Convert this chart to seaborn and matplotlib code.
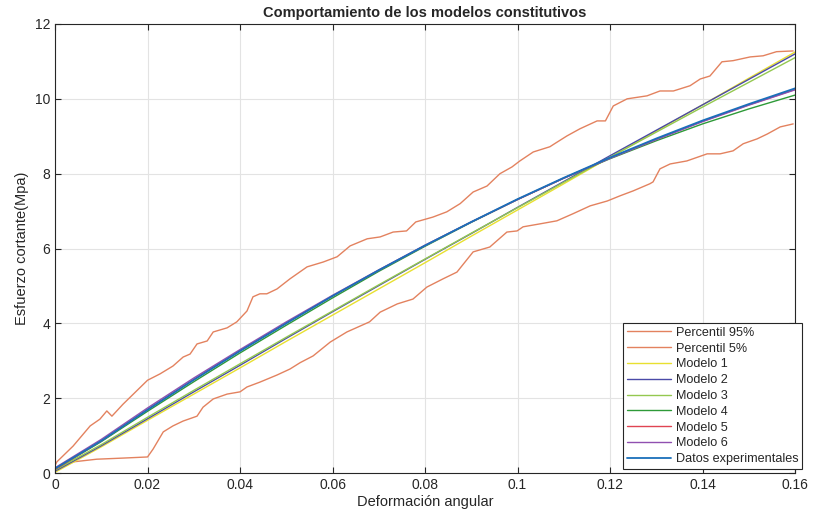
import matplotlib
matplotlib.use("Agg")
import matplotlib.pyplot as plt
import pandas as pd
import seaborn as sns

# percentiles
p95_x = [0.0, 0.0004, 0.0039, 0.0076, 0.0097, 0.0112, 0.0123, 0.0147, 0.0200, 0.0227,
         0.0255, 0.0277, 0.0292, 0.0307, 0.0329, 0.0342, 0.0372, 0.0393, 0.0415, 0.0428,
         0.0443, 0.0458, 0.0480, 0.0508, 0.0545, 0.0580, 0.0610, 0.0638, 0.0675, 0.0703,
         0.0731, 0.0760, 0.0780, 0.0817, 0.0847, 0.0876, 0.0904, 0.0934, 0.0962, 0.0988,
         0.1005, 0.1034, 0.1070, 0.1080, 0.1107, 0.1135, 0.1172, 0.1190, 0.1207, 0.1237,
         0.1280, 0.1308, 0.1337, 0.1373, 0.1395, 0.1416, 0.1442, 0.1466, 0.1503, 0.1531,
         0.1560, 0.1596]
p95_y = [0.20, 0.30, 0.72, 1.26, 1.44, 1.66, 1.52, 1.84, 2.48, 2.65,
         2.86, 3.10, 3.18, 3.45, 3.53, 3.77, 3.88, 4.04, 4.33, 4.71,
         4.79, 4.79, 4.92, 5.19, 5.51, 5.64, 5.78, 6.07, 6.26, 6.31,
         6.44, 6.47, 6.71, 6.84, 6.98, 7.20, 7.51, 7.67, 8.00, 8.18,
         8.34, 8.58, 8.72, 8.80, 9.01, 9.20, 9.41, 9.41, 9.81, 10.00,
         10.08, 10.21, 10.21, 10.35, 10.53, 10.61, 10.99, 11.02, 11.12, 11.15,
         11.26, 11.28]

p5_x = [0.0, 0.0040, 0.0090, 0.0147, 0.0200, 0.0212, 0.0234, 0.0255, 0.0277, 0.0307,
        0.0320, 0.0342, 0.0372, 0.0400, 0.0415, 0.0443, 0.0480, 0.0508, 0.0530, 0.0558,
        0.0595, 0.0631, 0.0680, 0.0703, 0.0740, 0.0774, 0.0804, 0.0839, 0.0869, 0.0904,
        0.0940, 0.0977, 0.0999, 0.1012, 0.1049, 0.1085, 0.1120, 0.1157, 0.1194, 0.1222,
        0.1250, 0.1286, 0.1293, 0.1308, 0.1330, 0.1366, 0.1410, 0.1438, 0.1466, 0.1488,
        0.1518, 0.1540, 0.1568, 0.1596]
p5_y = [0.08, 0.30, 0.37, 0.40, 0.43, 0.64, 1.10, 1.26, 1.39, 1.52,
        1.76, 1.98, 2.11, 2.17, 2.30, 2.43, 2.62, 2.78, 2.95, 3.13,
        3.50, 3.77, 4.04, 4.30, 4.52, 4.65, 4.97, 5.19, 5.37, 5.91,
        6.04, 6.44, 6.47, 6.58, 6.66, 6.74, 6.93, 7.14, 7.27, 7.41,
        7.54, 7.73, 7.78, 8.13, 8.26, 8.34, 8.53, 8.53, 8.61, 8.80,
        8.93, 9.06, 9.25, 9.33]

# modelos y datos, evaluados en la misma deformacion
gamma = [0.0, 0.01, 0.02, 0.03, 0.04, 0.05, 0.06, 0.07, 0.08,
         0.09, 0.10, 0.11, 0.12, 0.13, 0.14, 0.15, 0.16]
modelo1 = [0.02, 0.70, 1.41, 2.11, 2.81, 3.52, 4.22, 4.92, 5.62,
           6.33, 7.03, 7.73, 8.44, 9.14, 9.84, 10.55, 11.25]
modelo2 = [0.05, 0.73, 1.45, 2.17, 2.88, 3.60, 4.31, 5.01, 5.71,
           6.40, 7.10, 7.79, 8.48, 9.16, 9.84, 10.52, 11.20]
modelo3 = [0.08, 0.76, 1.49, 2.21, 2.92, 3.63, 4.33, 5.03, 5.72,
           6.41, 7.09, 7.77, 8.44, 9.11, 9.78, 10.44, 11.10]
modelo4 = [0.10, 0.84, 1.65, 2.44, 3.21, 3.95, 4.68, 5.39, 6.06,
           6.70, 7.31, 7.88, 8.40, 8.88, 9.33, 9.73, 10.10]
modelo5 = [0.10, 0.86, 1.70, 2.50, 3.27, 4.01, 4.73, 5.42, 6.08,
           6.71, 7.31, 7.88, 8.42, 8.92, 9.40, 9.84, 10.25]
modelo6 = [0.14, 0.90, 1.74, 2.54, 3.30, 4.04, 4.75, 5.43, 6.09,
           6.71, 7.31, 7.88, 8.41, 8.91, 9.39, 9.83, 10.24]
datos = [0.12, 0.86, 1.69, 2.49, 3.26, 4.00, 4.73, 5.42, 6.08,
         6.71, 7.32, 7.89, 8.43, 8.94, 9.42, 9.86, 10.28]

x_ticks = [0, 0.02, 0.04, 0.06, 0.08, 0.1, 0.12, 0.14, 0.16]
y_ticks = [0, 2, 4, 6, 8, 10, 12]

series = [
    ("Percentil 95%", p95_x, p95_y, "#e3825f", 1.0),
    ("Percentil 5%", p5_x, p5_y, "#e3825f", 1.0),
    ("Modelo 1", gamma, modelo1, "#e8e030", 1.0),
    ("Modelo 2", gamma, modelo2, "#4a4aa8", 1.0),
    ("Modelo 3", gamma, modelo3, "#94c850", 1.0),
    ("Modelo 4", gamma, modelo4, "#2e9a38", 1.0),
    ("Modelo 5", gamma, modelo5, "#e04452", 1.0),
    ("Modelo 6", gamma, modelo6, "#9050b0", 1.0),
    ("Datos experimentales", gamma, datos, "#1a6fba", 1.3),
]

sns.set_style("whitegrid")
plt.rcParams['font.family'] = ['Liberation Sans', 'DejaVu Sans']

fig, ax = plt.subplots(figsize=(8.14, 5.17), dpi=100)
fig.subplots_adjust(left=0.0676, right=0.9767, bottom=0.085, top=0.9536)

for nombre, xs, ys, color, lw in series:
    df = pd.DataFrame({"x": xs, "y": ys})
    sns.lineplot(data=df, x="x", y="y", ax=ax, color=color, linewidth=lw,
                 label=nombre, sort=False, estimator=None)

ax.set_xlim(0, 0.16)
ax.set_ylim(0, 12)
ax.set_xticks(x_ticks)
ax.set_xticklabels([f"{v:g}" for v in x_ticks])
ax.set_yticks(y_ticks)
ax.grid(True, color="#e3e3e3", linewidth=0.8)
ax.tick_params(direction="in", length=4, labelsize=10, colors="#262626",
               top=True, right=True, bottom=True, left=True)
for s in ax.spines.values():
    s.set_color("#262626")
    s.set_linewidth(0.8)

ax.set_xlabel("Deformación angular", fontsize=10.5, labelpad=2)
ax.set_ylabel("Esfuerzo cortante(Mpa)", fontsize=10.5, labelpad=4)
ax.set_title("Comportamiento de los modelos constitutivos", fontsize=10.5,
             fontweight="bold", pad=5)

leg = ax.legend(loc="lower right", bbox_to_anchor=(1.01, 0.009), fontsize=9.1,
                frameon=True, fancybox=False, framealpha=1, edgecolor="#262626",
                handlelength=3.5, labelspacing=0.3, borderpad=0.3,
                handletextpad=0.4, borderaxespad=0.0)
leg.get_frame().set_linewidth(0.8)

plt.savefig("out.png", dpi=100)
